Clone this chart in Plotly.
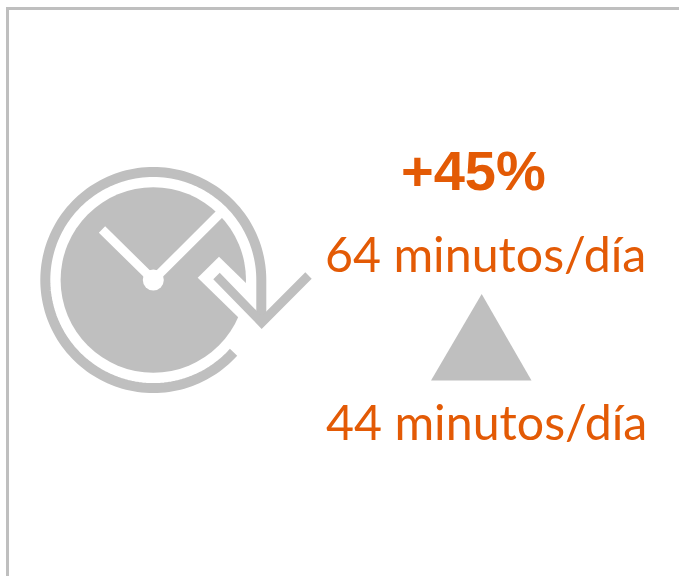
import numpy as np
import plotly.graph_objects as go

labels = ["+45%", "64 minutos/día", "44 minutos/día"]
minutes = [64, 44]
change_pct = [45]

ORANGE = "#E35A05"
GRAY = "#BFBFBF"
CX, CY = 153.3, 280.0


def poly(points, close=False):
    d = "M" + " L".join(f"{x:.2f},{y:.2f}" for x, y in points)
    return d + (" Z" if close else "")


angles = np.radians(np.arange(42, 360.5, 2))
ring = [(CX + 108 * np.cos(a), CY + 108 * np.sin(a)) for a in angles]
ring.append((261.3, 318))

shapes = [
    # frame
    dict(type="line", x0=7.5, y0=8.5, x1=679, y1=8.5, line=dict(color=GRAY, width=3)),
    dict(type="line", x0=7.5, y0=7, x1=7.5, y1=576, line=dict(color=GRAY, width=3)),
    # clock disc
    dict(type="circle", x0=CX - 92.7, y0=CY - 92.7, x1=CX + 92.7, y1=CY + 92.7,
         fillcolor=GRAY, line=dict(width=0)),
    # white cut-out around the arrow
    dict(type="path", path=poly([(219, 256.7), (197.7, 277.7), (240, 319), (262, 337), (262, 300), (250, 287)], True),
         fillcolor="white", line=dict(width=0)),
    # hands
    dict(type="path", path=poly([(102, 229.5), (CX, CY), (222, 211.5)]),
         line=dict(color="white", width=9), fillcolor="rgba(0,0,0,0)"),
    dict(type="circle", x0=CX - 10.5, y0=CY - 10.5, x1=CX + 10.5, y1=CY + 10.5,
         fillcolor="white", line=dict(width=0)),
    # ring and arrow
    dict(type="path", path=poly(ring), line=dict(color=GRAY, width=10), fillcolor="rgba(0,0,0,0)"),
    dict(type="path", path=poly([(216.5, 276), (261.7, 322.5), (308.5, 275.5)]),
         line=dict(color=GRAY, width=9), fillcolor="rgba(0,0,0,0)"),
    # triangle
    dict(type="path", path=poly([(481.7, 294), (431, 380.5), (531.5, 380.5)], True),
         fillcolor=GRAY, line=dict(width=0)),
]

annotations = [
    dict(x=473.3, y=170, text=f"<b>+{change_pct[0]}%</b>", font=dict(family="Liberation Sans", size=56, color=ORANGE)),
    dict(x=485.3, y=253.2, text=f"{minutes[0]} minutos/día", font=dict(family="Lato", size=48.3, color=ORANGE)),
    dict(x=486.3, y=421.2, text=f"{minutes[1]} minutos/día", font=dict(family="Lato", size=48.3, color=ORANGE)),
]
for a in annotations:
    a.update(xref="x", yref="y", showarrow=False, xanchor="center", yanchor="middle")

fig = go.Figure()
fig.update_layout(
    width=679, height=576, margin=dict(l=0, r=0, t=0, b=0),
    paper_bgcolor="white", plot_bgcolor="white", showlegend=False,
    xaxis=dict(range=[0, 679], visible=False, fixedrange=True),
    yaxis=dict(range=[576, 0], visible=False, fixedrange=True),
    shapes=shapes, annotations=annotations,
)
fig.write_html("out.html", config=dict(displayModeBar=False),
               post_script="document.body.style.margin='0';document.documentElement.style.overflow='hidden';")
